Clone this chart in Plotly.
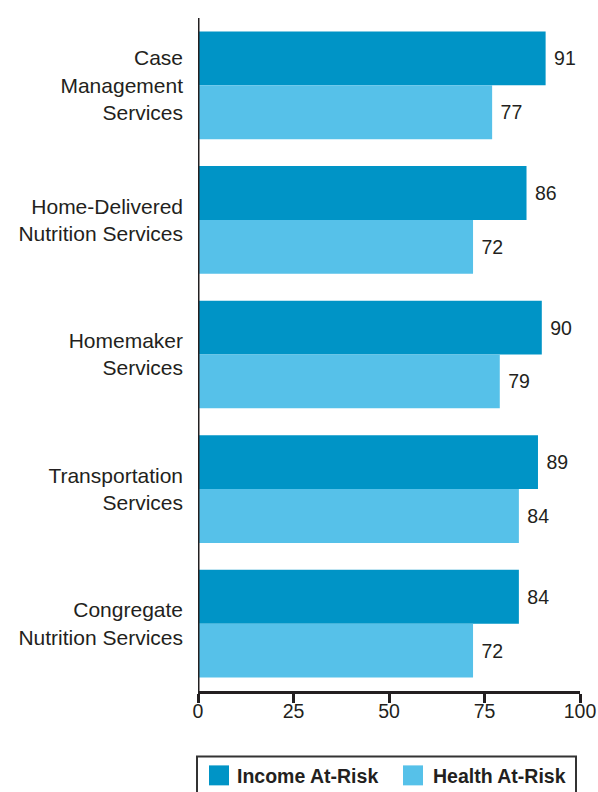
import plotly.graph_objects as go

categories = ["Case<br>Management<br>Services", "Home-Delivered<br>Nutrition Services",
              "Homemaker<br>Services", "Transportation<br>Services",
              "Congregate<br>Nutrition Services"]
income = [91, 86, 90, 89, 84]
health = [77, 72, 79, 84, 72]
series_names = ["Income At-Risk", "Health At-Risk"]
colors = ["#0094c6", "#56c1e9"]
tick_vals = [0, 25, 50, 75, 100]

W, H = 598, 792
L, R, T, B = 198, 18, 17.5, 100.5
TXT = "#231f20"
FONT = "Liberation Sans, Arial, Helvetica, sans-serif"

fig = go.Figure()
for name, vals, col in zip(series_names, [income, health], colors):
    fig.add_trace(go.Bar(
        y=categories, x=vals, name=name, orientation="h",
        marker=dict(color=col, line=dict(width=0)),
        text=vals, texttemplate=" %{x}", textposition="outside",
        textfont=dict(size=19.5, color=TXT, family=FONT),
        cliponaxis=False, showlegend=False,
    ))

fig.update_layout(
    width=W, height=H,
    margin=dict(l=L, r=R, t=T, b=B, pad=0, autoexpand=False),
    paper_bgcolor="white", plot_bgcolor="white",
    barmode="group", bargap=0.2, bargroupgap=0,
    font=dict(family=FONT, color=TXT),
)
fig.update_xaxes(
    range=[0, 100], tickvals=tick_vals, ticktext=[str(v) for v in tick_vals],
    showgrid=False, zeroline=False, showline=True, linecolor=TXT, linewidth=3,
    ticks="outside", ticklen=9, tickwidth=2.5, tickcolor=TXT,
    ticklabelstandoff=-8,
    tickfont=dict(size=19.5, color=TXT, family=FONT), automargin=False,
)
fig.update_yaxes(
    autorange="reversed", showgrid=False, zeroline=False,
    showline=False, ticks="", ticklabelstandoff=14, automargin=False,
    tickfont=dict(size=21, color=TXT, family=FONT),
)
# vertical axis line spanning full height
fig.add_shape(type="line", xref="x", yref="paper", x0=0, x1=0, y0=0, y1=1,
              line=dict(color=TXT, width=3), layer="above")

# manual legend (pixel helper)
pw, ph = W - L - R, H - T - B
def px(x):
    return (x - L) / pw
def py(y):
    return (H - B - y) / ph

fig.add_shape(type="rect", xref="paper", yref="paper",
              x0=px(197), x1=px(576), y0=py(757), y1=py(800),
              line=dict(color="#333333", width=2), fillcolor="rgba(0,0,0,0)")
leg = [(209, 235), (403, 431)]
for (sx, tx), name, col in zip(leg, series_names, colors):
    fig.add_shape(type="rect", xref="paper", yref="paper",
                  x0=px(sx), x1=px(sx + 20), y0=py(786), y1=py(766),
                  line=dict(width=0), fillcolor=col)
    fig.add_annotation(xref="paper", yref="paper", x=px(tx), y=py(776.5),
                       text="<b>" + name + "</b>", showarrow=False,
                       xanchor="left", yanchor="middle",
                       font=dict(size=19.5, color=TXT, family=FONT))

fig.write_html("out.html")
